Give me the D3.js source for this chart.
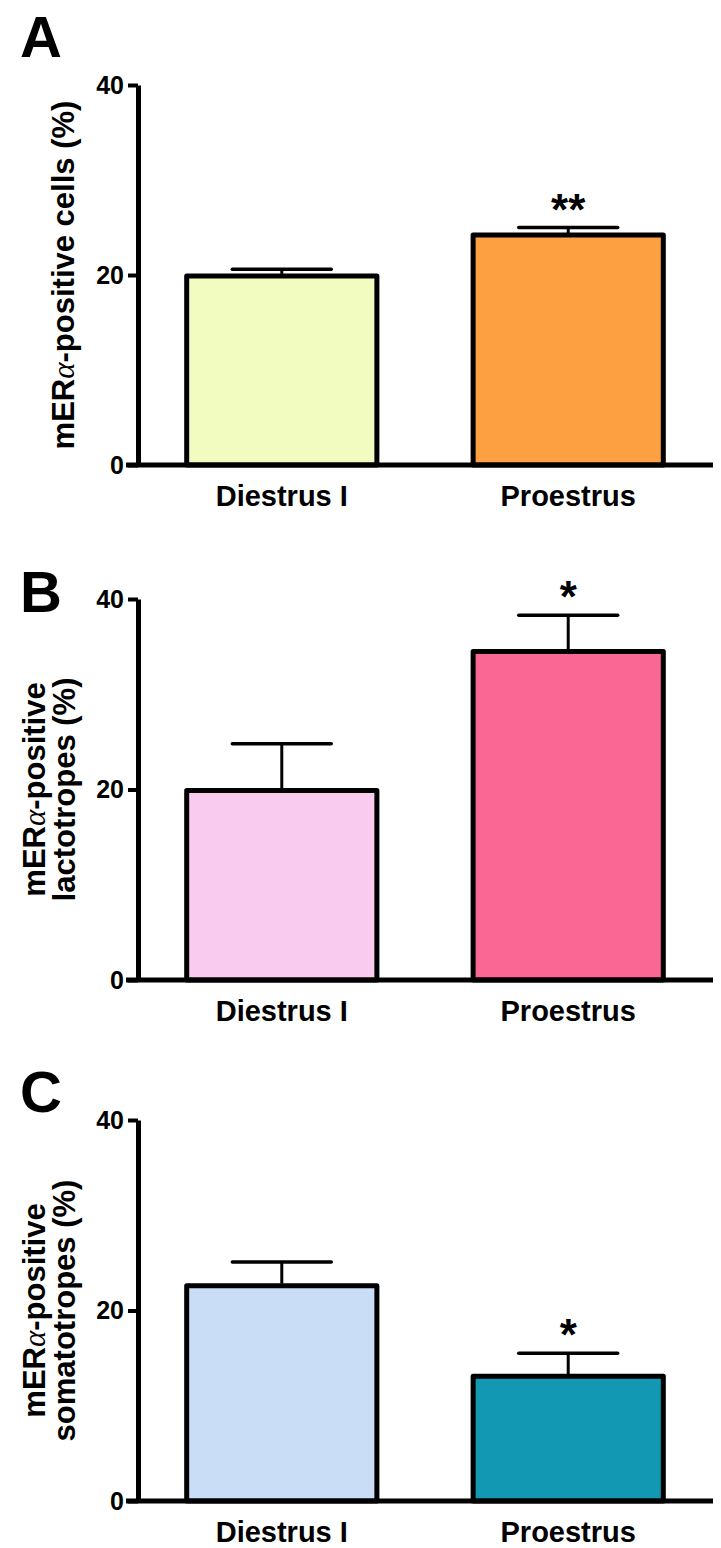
<!DOCTYPE html>
<html>
<head>
<meta charset="utf-8">
<script src="https://cdn.jsdelivr.net/npm/d3@7"></script>
<style>
  body { margin: 0; background: #fff; }
  text { font-family: "Liberation Sans", Arial, sans-serif; font-weight: bold; }
</style>
</head>
<body>
<svg id="chart"></svg>
<script>
// categories shared by all three panels
const categories = ['Diestrus I', 'Proestrus']
const yTicks = [0, 20, 40]

// panel A: mERa-positive cells
const cellsMean = [19.9, 24.2]
const cellsErr = [0.7, 0.8]
const cellsSig = ['', '**']

// panel B: lactotropes
const lactoMean = [19.9, 34.5]
const lactoErr = [4.9, 3.8]
const lactoSig = ['', '*']

// panel C: somatotropes
const somatoMean = [22.6, 13.1]
const somatoErr = [2.5, 2.4]
const somatoSig = ['', '*']

const panels = [
  { letter: 'A', labelLines: [['mER', 'α', '-positive cells (%)']], mean: cellsMean, err: cellsErr, sig: cellsSig,
    colors: ['#f3fcc0', '#fca042'], top: 85, bottom: 465, letterY: 57 },
  { letter: 'B', labelLines: [['mER', 'α', '-positive'], ['lactotropes (%)']], mean: lactoMean, err: lactoErr, sig: lactoSig,
    colors: ['#f9cbee', '#fb6795'], top: 599, bottom: 980, letterY: 612 },
  { letter: 'C', labelLines: [['mER', 'α', '-positive'], ['somatotropes (%)']], mean: somatoMean, err: somatoErr, sig: somatoSig,
    colors: ['#c9ddf6', '#1398b3'], top: 1120, bottom: 1501, letterY: 1112 }
]

const svg = d3.select('#chart')
    .attr('width', 721)
    .attr('height', 1548)

const axisX = 138

panels.forEach(p => {
    const g = svg.append('g')

    const y = d3.scaleLinear().domain([0, 40]).range([p.bottom, p.top])
    const x = d3.scaleBand().domain(categories).range([axisX, 712])
        .paddingInner(0.336).paddingOuter(0.17)

    // panel letter
    g.append('text')
        .attr('x', 20)
        .attr('y', p.letterY)
        .style('font-size', '58px')
        .text(p.letter)

    // bars
    g.selectAll('rect.bar')
        .data(categories)
        .join('rect')
        .attr('class', 'bar')
        .attr('x', d => x(d))
        .attr('y', (d, i) => y(p.mean[i]))
        .attr('width', x.bandwidth())
        .attr('height', (d, i) => y(0) - y(p.mean[i]))
        .attr('fill', (d, i) => p.colors[i])
        .attr('stroke', '#000')
        .attr('stroke-width', 5)
        .attr('stroke-linejoin', 'round')

    // error bars (upper only)
    const capW = x.bandwidth() * 0.52
    const eb = g.selectAll('g.err')
        .data(categories)
        .join('g')
        .attr('class', 'err')
    eb.append('line')
        .attr('x1', d => x(d) + x.bandwidth() / 2)
        .attr('x2', d => x(d) + x.bandwidth() / 2)
        .attr('y1', (d, i) => y(p.mean[i]) - 2)
        .attr('y2', (d, i) => y(p.mean[i] + p.err[i]))
        .attr('stroke', '#000').attr('stroke-width', 3)
    eb.append('line')
        .attr('x1', d => x(d) + x.bandwidth() / 2 - capW / 2)
        .attr('x2', d => x(d) + x.bandwidth() / 2 + capW / 2)
        .attr('y1', (d, i) => y(p.mean[i] + p.err[i]))
        .attr('y2', (d, i) => y(p.mean[i] + p.err[i]))
        .attr('stroke', '#000').attr('stroke-width', 3.5)
        .attr('stroke-linecap', 'round')

    // significance stars
    g.selectAll('text.sig')
        .data(categories)
        .join('text')
        .attr('class', 'sig')
        .attr('x', d => x(d) + x.bandwidth() / 2)
        .attr('y', (d, i) => y(p.mean[i] + p.err[i]) - 3)
        .attr('text-anchor', 'middle')
        .style('font-size', '44px')
        .text((d, i) => p.sig[i])

    // y axis
    const yAxis = g.append('g')
        .attr('transform', `translate(${axisX},0)`)
        .call(d3.axisLeft(y).tickValues(yTicks).tickSize(10).tickSizeOuter(0).tickPadding(4))
    yAxis.select('.domain').attr('stroke-width', 5).attr('stroke-linejoin', 'round')
    yAxis.selectAll('.tick line').attr('stroke-width', 4)
    yAxis.selectAll('.tick text')
        .style('font-size', '25px')
        .style('font-family', '"Liberation Sans", Arial, sans-serif')
        .style('font-weight', 'bold')
        .attr('fill', '#000')

    // x axis baseline
    g.append('line')
        .attr('x1', axisX - 12).attr('x2', 713)
        .attr('y1', y(0)).attr('y2', y(0))
        .attr('stroke', '#000').attr('stroke-width', 5)

    // category labels
    g.selectAll('text.cat')
        .data(categories)
        .join('text')
        .attr('class', 'cat')
        .attr('x', d => x(d) + x.bandwidth() / 2)
        .attr('y', y(0) + 41)
        .attr('text-anchor', 'middle')
        .style('font-size', '29px')
        .text(d => d)

    // y axis title
    const cy = (p.top + p.bottom) / 2
    const baselines = p.labelLines.length === 1 ? [74] : [45, 75]
    p.labelLines.forEach((parts, li) => {
        const t = g.append('text')
            .attr('transform', `translate(${baselines[li]},${cy}) rotate(-90)`)
            .attr('text-anchor', 'middle')
            .style('font-size', '31px')
        parts.forEach(s => {
            const ts = t.append('tspan').text(s)
            if (s === 'α') {
                ts.style('font-family', '"Liberation Serif", serif')
                  .style('font-style', 'italic')
                  .style('font-weight', 'normal')
            }
        })
    })
})
</script>
</body>
</html>
